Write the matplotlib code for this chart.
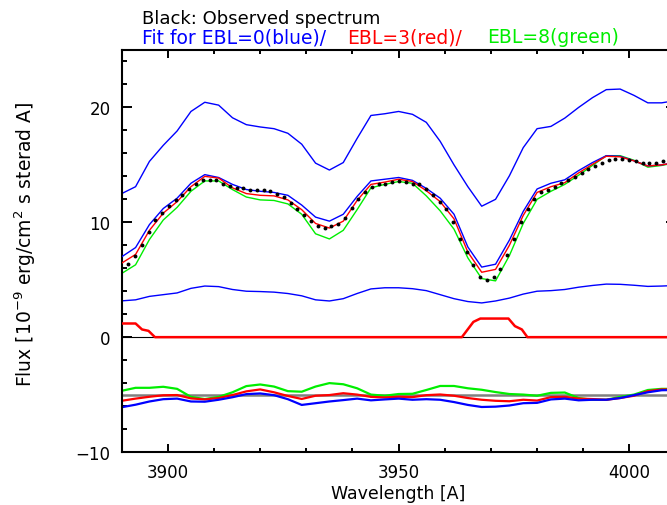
import numpy as np
import matplotlib
matplotlib.use("Agg")
import matplotlib.pyplot as plt
from matplotlib.ticker import MultipleLocator

# ---------------- data ----------------
# wavelength grid of the fitted curves (Angstrom)
fit_wave = [3890, 3893, 3896, 3899, 3902, 3905, 3908, 3911, 3914, 3917,
            3920, 3923, 3926, 3929, 3932, 3935, 3938, 3941, 3944, 3947,
            3950, 3953, 3956, 3959, 3962, 3965, 3968, 3971, 3974, 3977,
            3980, 3983, 3986, 3989, 3992, 3995, 3998, 4001, 4004, 4007, 4010]

# fit for EBL=0 (blue), total
fit_ebl0_top = [12.5, 13.1, 15.3, 16.7, 17.95, 19.65, 20.45, 20.2, 19.1, 18.5,
                18.3, 18.15, 17.75, 16.8, 15.15, 14.55, 15.2, 17.3, 19.3, 19.45,
                19.65, 19.4, 18.7, 17.05, 15.0, 13.1, 11.4, 12.0, 14.05, 16.5,
                18.15, 18.35, 19.07, 20.0, 20.85, 21.55, 21.6, 21.05, 20.4, 20.4, 20.6]
# fit for EBL=0 (blue), scaled
fit_ebl0 = [7.0, 7.8, 9.8, 11.2, 12.1, 13.4, 14.15, 13.9, 13.3, 12.85,
            12.7, 12.6, 12.35, 11.5, 10.45, 10.1, 10.7, 12.25, 13.6, 13.75,
            13.9, 13.65, 12.95, 12.1, 10.7, 7.85, 6.1, 6.35, 8.45, 10.95,
            12.9, 13.4, 13.7, 14.5, 15.2, 15.8, 15.75, 15.35, 14.9, 15.0, 15.2]
# fit for EBL=3 (red)
fit_ebl3 = [6.45, 7.2, 9.3, 10.8, 11.8, 13.1, 14.0, 13.85, 13.0, 12.5,
            12.35, 12.3, 11.95, 11.1, 9.9, 9.5, 10.1, 11.9, 13.3, 13.5,
            13.75, 13.55, 12.75, 11.8, 10.3, 7.4, 5.65, 5.9, 8.0, 10.6,
            12.6, 13.1, 13.45, 14.3, 15.05, 15.75, 15.7, 15.35, 14.9, 15.0, 15.2]
# fit for EBL=8 (green)
fit_ebl8 = [5.55, 6.3, 8.5, 10.2, 11.3, 12.7, 13.6, 13.6, 12.85, 12.2,
            11.95, 11.9, 11.6, 10.7, 9.0, 8.55, 9.3, 11.1, 13.0, 13.3,
            13.55, 13.4, 12.3, 11.0, 9.4, 6.9, 5.1, 4.9, 7.1, 9.9,
            12.0, 12.7, 13.3, 14.1, 14.95, 15.8, 15.8, 15.4, 14.8, 14.95, 15.2]
# lower blue component
fit_low = [3.16, 3.25, 3.55, 3.7, 3.85, 4.25, 4.45, 4.4, 4.15, 4.0,
           3.97, 3.92, 3.8, 3.6, 3.25, 3.15, 3.35, 3.8, 4.2, 4.3,
           4.3, 4.22, 4.05, 3.7, 3.35, 3.1, 2.98, 3.15, 3.4, 3.75,
           4.0, 4.05, 4.15, 4.35, 4.5, 4.62, 4.6, 4.52, 4.42, 4.45, 4.5]
# residuals (offset to -5)
resid_ebl8 = [-4.67, -4.41, -4.41, -4.32, -4.5, -5.2, -5.39, -5.2, -4.8, -4.26,
              -4.12, -4.3, -4.7, -4.75, -4.3, -4.0, -4.1, -4.45, -5.0, -5.1,
              -4.95, -4.93, -4.6, -4.25, -4.25, -4.45, -4.58, -4.78, -4.95, -5.0,
              -5.1, -4.85, -4.82, -5.3, -5.45, -5.45, -5.2, -5.0, -4.6, -4.5, -4.5]
resid_ebl3 = [-5.54, -5.35, -5.19, -5.06, -5.04, -5.33, -5.42, -5.3, -5.04, -4.72,
              -4.55, -4.8, -5.12, -5.38, -5.1, -5.04, -4.88, -5.0, -5.2, -5.25,
              -5.19, -5.22, -5.05, -4.99, -5.1, -5.3, -5.45, -5.54, -5.58, -5.45,
              -5.52, -5.22, -5.2, -5.35, -5.39, -5.45, -5.3, -5.1, -4.7, -4.55, -4.55]
resid_ebl0 = [-6.1, -5.88, -5.6, -5.4, -5.35, -5.6, -5.62, -5.45, -5.23, -4.96,
              -4.9, -5.05, -5.4, -5.9, -5.75, -5.6, -5.48, -5.35, -5.5, -5.42,
              -5.35, -5.45, -5.4, -5.45, -5.65, -5.9, -6.08, -6.05, -5.95, -5.75,
              -5.72, -5.42, -5.35, -5.5, -5.45, -5.45, -5.3, -5.05, -4.8, -4.62, -4.6]

# EBL component (red, near zero)
ebl_wave = [3890, 3893.0, 3894.4, 3895.8, 3897.2, 3963.7, 3966.2, 3967.7,
            3973.8, 3975.2, 3976.7, 3977.9, 4010]
ebl_flux = [1.19, 1.19, 0.67, 0.55, 0.0, 0.0, 1.33, 1.62,
            1.62, 0.96, 0.67, 0.0, 0.0]

# observed spectrum (black dots)
obs_wave = np.linspace(3891.43, 4007.25, 80)
obs_flux = [6.35, 7.07, 8.0, 9.16, 10.23, 10.84, 11.42, 11.9, 12.35, 12.9,
            13.36, 13.65, 13.7, 13.65, 13.36, 13.13, 13.0, 12.95, 12.84, 12.78,
            12.78, 12.72, 12.49, 12.2, 11.68, 11.19, 10.67, 10.09, 9.65, 9.54,
            9.68, 9.83, 10.4, 11.28, 12.06, 12.64, 13.07, 13.36, 13.36, 13.5,
            13.6, 13.5, 13.36, 13.3, 12.93, 12.35, 11.77, 11.19, 10.03, 8.58,
            7.42, 6.26, 5.25, 4.96, 5.25, 5.97, 7.13, 8.58, 10.03, 11.19,
            12.06, 12.64, 12.78, 13.07, 13.42, 13.65, 13.94, 14.32, 14.6, 14.9,
            15.19, 15.39, 15.54, 15.48, 15.39, 15.3, 15.16, 15.16, 15.19, 15.33]

# ---------------- plot ----------------
plt.rcParams['font.family'] = ['DejaVu Sans']
fig = plt.figure(figsize=(6.67, 5.06), dpi=100)
ax = fig.add_axes([0.1825, 0.1047, 0.8303, 0.7945])

BLUE, RED, GREEN = '#0000ff', '#ff0000', '#00ee00'

ax.axhline(0, color='black', lw=0.8, zorder=1)
ax.axhline(-5, color='#808080', lw=1.8, zorder=1)

ax.plot(fit_wave, fit_ebl0_top, color=BLUE, lw=1.0, zorder=2)
ax.plot(fit_wave, fit_ebl8, color=GREEN, lw=1.0, zorder=2)
ax.plot(fit_wave, fit_ebl0, color=BLUE, lw=1.0, zorder=3)
ax.plot(fit_wave, fit_ebl3, color=RED, lw=1.0, zorder=3)
ax.plot(fit_wave, fit_low, color=BLUE, lw=1.0, zorder=2)
ax.plot(ebl_wave, ebl_flux, color=RED, lw=1.8, zorder=3)

ax.plot(fit_wave, resid_ebl8, color=GREEN, lw=1.6, zorder=2)
ax.plot(fit_wave, resid_ebl3, color=RED, lw=1.6, zorder=2)
ax.plot(fit_wave, resid_ebl0, color=BLUE, lw=1.6, zorder=2)

ax.plot(obs_wave, obs_flux, linestyle='none', marker='o', markersize=2.8,
        markeredgewidth=0, color='black', zorder=4)

ax.set_xlim(3890, 4010)
ax.set_ylim(-10, 25)
ax.xaxis.set_major_locator(MultipleLocator(50))
ax.xaxis.set_minor_locator(MultipleLocator(10))
ax.yaxis.set_major_locator(MultipleLocator(10))
ax.yaxis.set_minor_locator(MultipleLocator(2))

ax.tick_params(axis='both', which='both', direction='in', top=True, right=True,
               width=1.4, labelsize=12)
ax.tick_params(axis='x', which='major', length=5.8, pad=8)
ax.tick_params(axis='x', which='minor', length=3.2)
ax.tick_params(axis='y', which='major', length=7.2, pad=8)
ax.tick_params(axis='y', which='minor', length=3.6)
for s in ax.spines.values():
    s.set_linewidth(1.5)

ax.set_xlabel('Wavelength [A]', fontsize=12.5, labelpad=2)
ax.set_ylabel(r'Flux [10$^{-9}$ erg/cm$^{2}$ s sterad A]', fontsize=13.5)
ax.yaxis.set_label_coords(-0.151, 0.52)

fig.text(0.2125, 0.9526, 'Black: Observed spectrum', color='black', fontsize=13, va='baseline')
fig.text(0.2125, 0.9150, 'Fit for EBL=0(blue)/', color=BLUE, fontsize=13.5, va='baseline')
fig.text(0.5198, 0.9150, 'EBL=3(red)/', color=RED, fontsize=13.5, va='baseline')
fig.text(0.7297, 0.9150, 'EBL=8(green)', color=GREEN, fontsize=13.5, va='baseline')

fig.savefig('out.png', dpi=100)
